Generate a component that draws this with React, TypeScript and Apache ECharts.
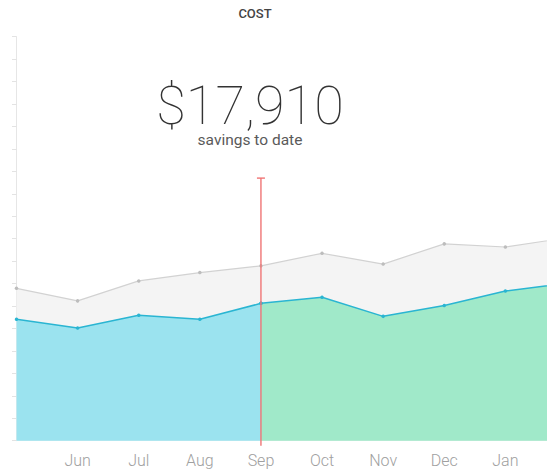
import React, { useEffect, useRef } from "react";
import * as echarts from "echarts";

const months = ["May", "Jun", "Jul", "Aug", "Sep", "Oct", "Nov", "Dec", "Jan", "Feb"];
const totalCost = [6.79, 6.23, 7.12, 7.49, 7.79, 8.35, 7.87, 8.77, 8.63, 9.04];
const actualCost = [5.41, 5.02, 5.59, 5.41, 6.12, 6.39, 5.54, 6.02, 6.67, 7.02];
const splitMonth = "Sep";
const markerTop = 11.7;
const savingsText = "$17,910";
const savingsLabel = "savings to date";
const titleText = "COST";

export default function App() {
  const ref = useRef<HTMLDivElement>(null);
  useEffect(() => {
    if (!ref.current) return;
    const chart = echarts.init(ref.current, undefined, { renderer: "svg" });
    const splitIdx = months.indexOf(splitMonth);
    const pastData = actualCost.map((v, i) => (i <= splitIdx ? v : null));
    const futureData = actualCost.map((v, i) => (i >= splitIdx ? v : null));
    const lineColor = "#2ab5d2";
    chart.setOption({
      animation: false,
      backgroundColor: "#ffffff",
      title: {
        text: titleText,
        left: 250,
        top: 1.5,
        textAlign: "center",
        textStyle: {
          fontFamily: "Roboto",
          fontSize: 13,
          fontWeight: 500,
          color: "#444444",
        },
      },
      graphic: [
        {
          type: "text",
          x: 250,
          y: 105,
          style: {
            text: savingsText,
            fontFamily: "Roboto",
            fontSize: 54,
            fontWeight: 100,
            fill: "#333333",
            align: "center",
            verticalAlign: "middle",
          },
        },
        {
          type: "text",
          x: 250,
          y: 140,
          style: {
            text: savingsLabel,
            fontFamily: "Roboto",
            fontSize: 15.5,
            fill: "#5a5a5a",
            align: "center",
            verticalAlign: "middle",
          },
        },
      ],
      grid: { left: 16.5, right: 3.5, top: 36.7, bottom: 32.3, containLabel: false },
      xAxis: {
        type: "category",
        data: months,
        boundaryGap: false,
        axisLine: { lineStyle: { color: "#e3e3e3", width: 1 } },
        axisTick: {
          inside: true,
          length: 5,
          lineStyle: { color: "#dddddd" },
          interval: (i: number) => i > 0 && i < months.length - 1,
        },
        axisLabel: {
          interval: (i: number) => i > 0 && i < months.length - 1,
          margin: 12,
          fontFamily: "Roboto",
          fontWeight: 300,
          fontSize: 16,
          color: "#a0a0a0",
        },
        splitLine: { show: false },
      },
      yAxis: {
        type: "value",
        min: 0,
        max: 18,
        interval: 1,
        axisLine: { show: true, lineStyle: { color: "#e6e6e6", width: 1 } },
        axisTick: { show: true, length: 4.5, lineStyle: { color: "#e3e3e3" } },
        axisLabel: { show: false },
        splitLine: { show: false },
      },
      series: [
        {
          type: "line",
          data: totalCost,
          symbol: "circle",
          symbolSize: 3.5,
          showSymbol: true,
          itemStyle: { color: "#bdbdbd" },
          lineStyle: { color: "#d2d2d2", width: 1.2 },
          areaStyle: { color: "#f4f4f4", opacity: 1 },
          z: 1,
        },
        {
          type: "line",
          data: pastData,
          symbol: "circle",
          symbolSize: 3.5,
          itemStyle: { color: lineColor },
          lineStyle: { color: lineColor, width: 1.5 },
          areaStyle: { color: "#9be3ef", opacity: 1 },
          z: 2,
        },
        {
          type: "line",
          data: futureData,
          symbol: "circle",
          symbolSize: 3.5,
          itemStyle: { color: lineColor },
          lineStyle: { color: lineColor, width: 1.5 },
          areaStyle: { color: "#a0e9c9", opacity: 1 },
          z: 2,
        },
        {
          type: "custom",
          data: [[splitMonth, markerTop]],
          clip: false,
          z: 5,
          renderItem: (params: any, api: any) => {
            const top = api.coord([api.value(0), api.value(1)]);
            const bottom = api.coord([api.value(0), 0]);
            const style = { stroke: "#f07575", lineWidth: 1.4 };
            return {
              type: "group",
              children: [
                {
                  type: "line",
                  shape: { x1: top[0], y1: top[1], x2: bottom[0], y2: bottom[1] + 5 },
                  style,
                },
                {
                  type: "line",
                  shape: { x1: top[0] - 4, y1: top[1], x2: top[0] + 4, y2: top[1] },
                  style,
                },
              ],
            };
          },
        },
      ],
    });
    return () => chart.dispose();
  }, []);
  return (
    <div
      style={{ position: "absolute", left: 0, top: 0, width: 547, height: 473, overflow: "hidden" }}
    >
      <div ref={ref} style={{ position: "absolute", left: 0, top: 0, width: 570, height: 473 }} />
    </div>
  );
}
